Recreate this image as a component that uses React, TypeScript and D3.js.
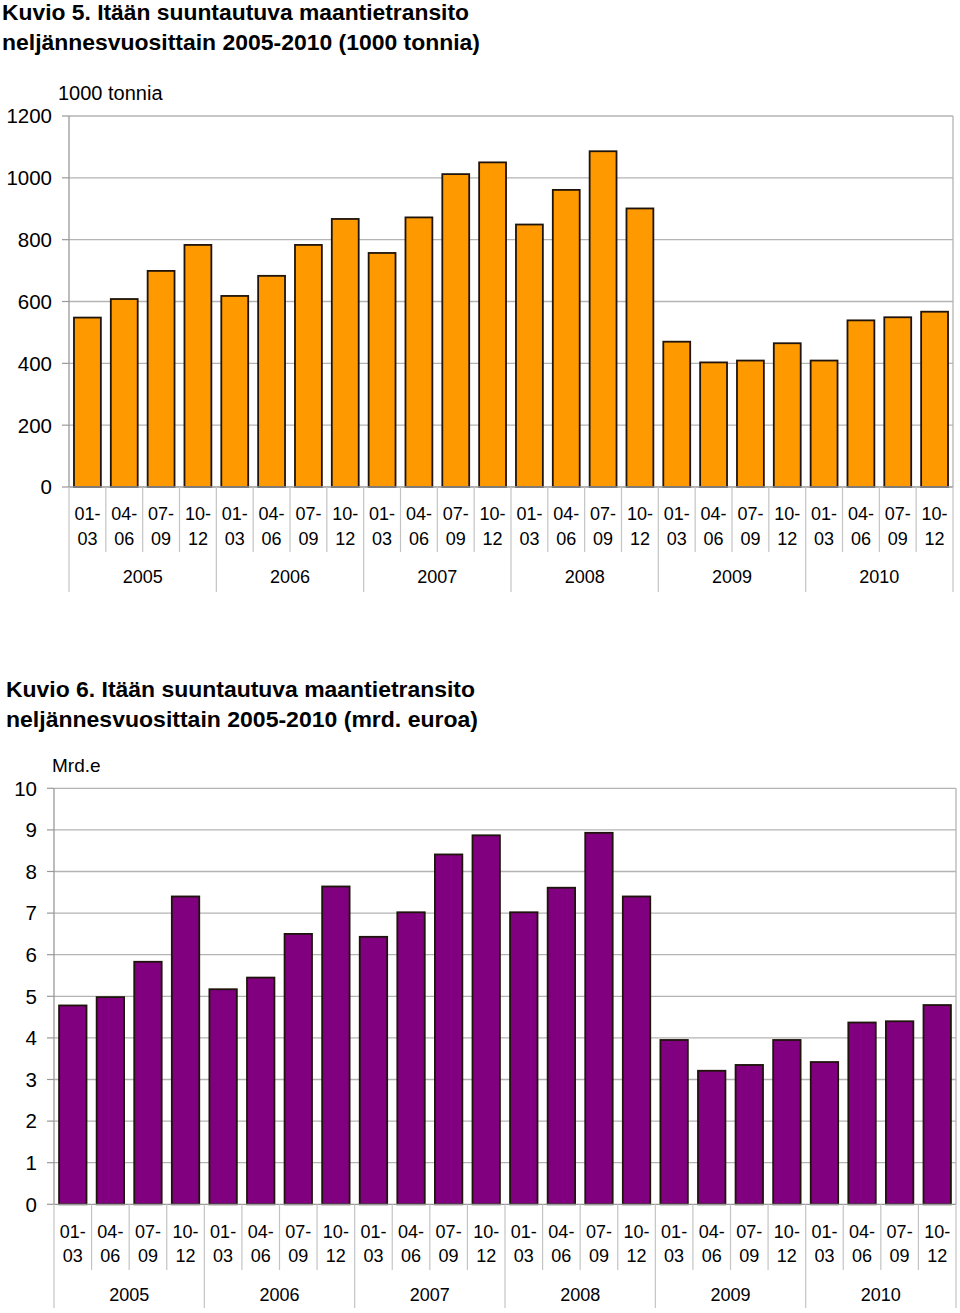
import React from "react";
import * as d3 from "d3";

const years = ["2005", "2006", "2007", "2008", "2009", "2010"];
const quarters = [["01-", "03"], ["04-", "06"], ["07-", "09"], ["10-", "12"]];

// Kuvio 5: 1000 tonnia
const tonnes = [
  548, 608, 699, 783,
  618, 683, 783, 867,
  757, 872, 1012, 1050,
  849, 961, 1086, 901,
  470, 403, 409, 465,
  409, 539, 549, 567,
];
// Kuvio 6: mrd. euroa
const euros = [
  4.78, 4.98, 5.83, 7.4,
  5.17, 5.45, 6.5, 7.64,
  6.43, 7.02, 8.41, 8.87,
  7.02, 7.61, 8.93, 7.4,
  3.95, 3.21, 3.35, 3.95,
  3.42, 4.37, 4.4, 4.79,
];
const tonTicks = [0, 200, 400, 600, 800, 1000, 1200];
const euroTicks = [0, 1, 2, 3, 4, 5, 6, 7, 8, 9, 10];

const FONT = "'Liberation Sans', Arial, Helvetica, sans-serif";

type ChartProps = {
  values: number[];
  ticks: number[];
  maxV: number;
  x0: number;
  x1: number;
  yTop: number;
  yBottom: number;
  fill: string;
  unit: string;
  unitX: number;
  unitY: number;
  unitSize: number;
  tickLabelX: number;
  title: string[];
  titleLen: number[];
  titleX: number;
  titleY: number;
  lab1Y: number;
  lab2Y: number;
  sepY: number;
  yearY: number;
  yearSepY: number;
};

function Chart(p: ChartProps) {
  const idx = d3.range(p.values.length);
  const x = d3.scaleBand<number>().domain(idx).range([p.x0, p.x1]).paddingInner(0.27).paddingOuter(0.135);
  const xb = d3.scaleBand<number>().domain(idx).range([p.x0, p.x1]).padding(0);
  const y = d3.scaleLinear().domain([0, p.maxV]).range([p.yBottom, p.yTop]);
  const step = xb.step();
  return (
    <g fontFamily={FONT}>
      {p.title.map((t, i) => (
        <text
          key={i}
          x={p.titleX}
          y={p.titleY + i * 30}
          fontSize={22}
          fontWeight="bold"
          fill="#000"
          textLength={p.titleLen[i]}
          lengthAdjust="spacingAndGlyphs"
        >
          {t}
        </text>
      ))}
      <text x={p.unitX} y={p.unitY} fontSize={p.unitSize} fill="#000">{p.unit}</text>
      {p.ticks.map((t) => (
        <g key={t}>
          {t > 0 && (
            <line x1={p.x0} x2={p.x1} y1={y(t)} y2={y(t)} stroke="#b4b4b4" strokeWidth={1.3} />
          )}
          <line x1={p.x0 - 7} x2={p.x0} y1={y(t)} y2={y(t)} stroke="#999" strokeWidth={1.2} />
          <text x={p.tickLabelX} y={y(t)} dy="0.36em" textAnchor="end" fontSize={20.5} fill="#000">
            {t}
          </text>
        </g>
      ))}
      <line x1={p.x1} x2={p.x1} y1={p.yTop} y2={p.yBottom} stroke="#b4b4b4" strokeWidth={1.3} />
      {idx.map((i) => (
        <rect
          key={i}
          x={x(i)}
          y={y(p.values[i])}
          width={x.bandwidth()}
          height={p.yBottom - y(p.values[i])}
          fill={p.fill}
          stroke="#1e140c"
          strokeWidth={1.8}
        />
      ))}
      <line x1={p.x0} x2={p.x1} y1={p.yBottom} y2={p.yBottom} stroke="#999" strokeWidth={1.3} />
      <line x1={p.x0} x2={p.x0} y1={p.yTop} y2={p.yBottom} stroke="#999" strokeWidth={1.3} />
      {idx.map((i) => {
        const cx = (xb(i) as number) + step / 2;
        const q = quarters[i % 4];
        const sx = (xb(i) as number) + step;
        const isYear = (i + 1) % 4 === 0;
        return (
          <g key={"l" + i}>
            <text x={cx} y={p.lab1Y} textAnchor="middle" fontSize={18} fill="#000">{q[0]}</text>
            <text x={cx} y={p.lab2Y} textAnchor="middle" fontSize={18} fill="#000">{q[1]}</text>
            <line
              x1={sx}
              x2={sx}
              y1={p.yBottom}
              y2={isYear ? p.yearSepY : p.sepY}
              stroke="#c4c4c4"
              strokeWidth={1.2}
            />
          </g>
        );
      })}
      <line x1={p.x0} x2={p.x0} y1={p.yBottom} y2={p.yearSepY} stroke="#c4c4c4" strokeWidth={1.2} />
      {years.map((yr, j) => (
        <text
          key={yr}
          x={(xb(j * 4) as number) + step * 2}
          y={p.yearY}
          textAnchor="middle"
          fontSize={18}
          fill="#000"
        >
          {yr}
        </text>
      ))}
    </g>
  );
}

export default function App() {
  return (
    <svg
      width={960}
      height={1313}
      style={{ position: "absolute", left: 0, top: 0, background: "#fff" }}
    >
      <rect width={960} height={1313} fill="#fff" />
      <Chart
        values={tonnes}
        ticks={tonTicks}
        maxV={1200}
        x0={69}
        x1={953}
        yTop={116}
        yBottom={487}
        fill="#ff9900"
        unit="1000 tonnia"
        unitX={58}
        unitY={100}
        unitSize={20}
        tickLabelX={52}
        title={["Kuvio 5. Itään suuntautuva maantietransito", "neljännesvuosittain 2005-2010 (1000 tonnia)"]}
        titleLen={[467, 478]}
        titleX={2}
        titleY={20}
        lab1Y={520}
        lab2Y={545}
        sepY={552}
        yearY={583}
        yearSepY={592}
      />
      <Chart
        values={euros}
        ticks={euroTicks}
        maxV={10}
        x0={54}
        x1={956}
        yTop={788.3}
        yBottom={1204.3}
        fill="#800080"
        unit="Mrd.e"
        unitX={52}
        unitY={772}
        unitSize={19}
        tickLabelX={37}
        title={["Kuvio 6. Itään suuntautuva maantietransito", "neljännesvuosittain 2005-2010 (mrd. euroa)"]}
        titleLen={[469, 472]}
        titleX={6}
        titleY={697}
        lab1Y={1238}
        lab2Y={1262}
        sepY={1270}
        yearY={1301}
        yearSepY={1308}
      />
    </svg>
  );
}
